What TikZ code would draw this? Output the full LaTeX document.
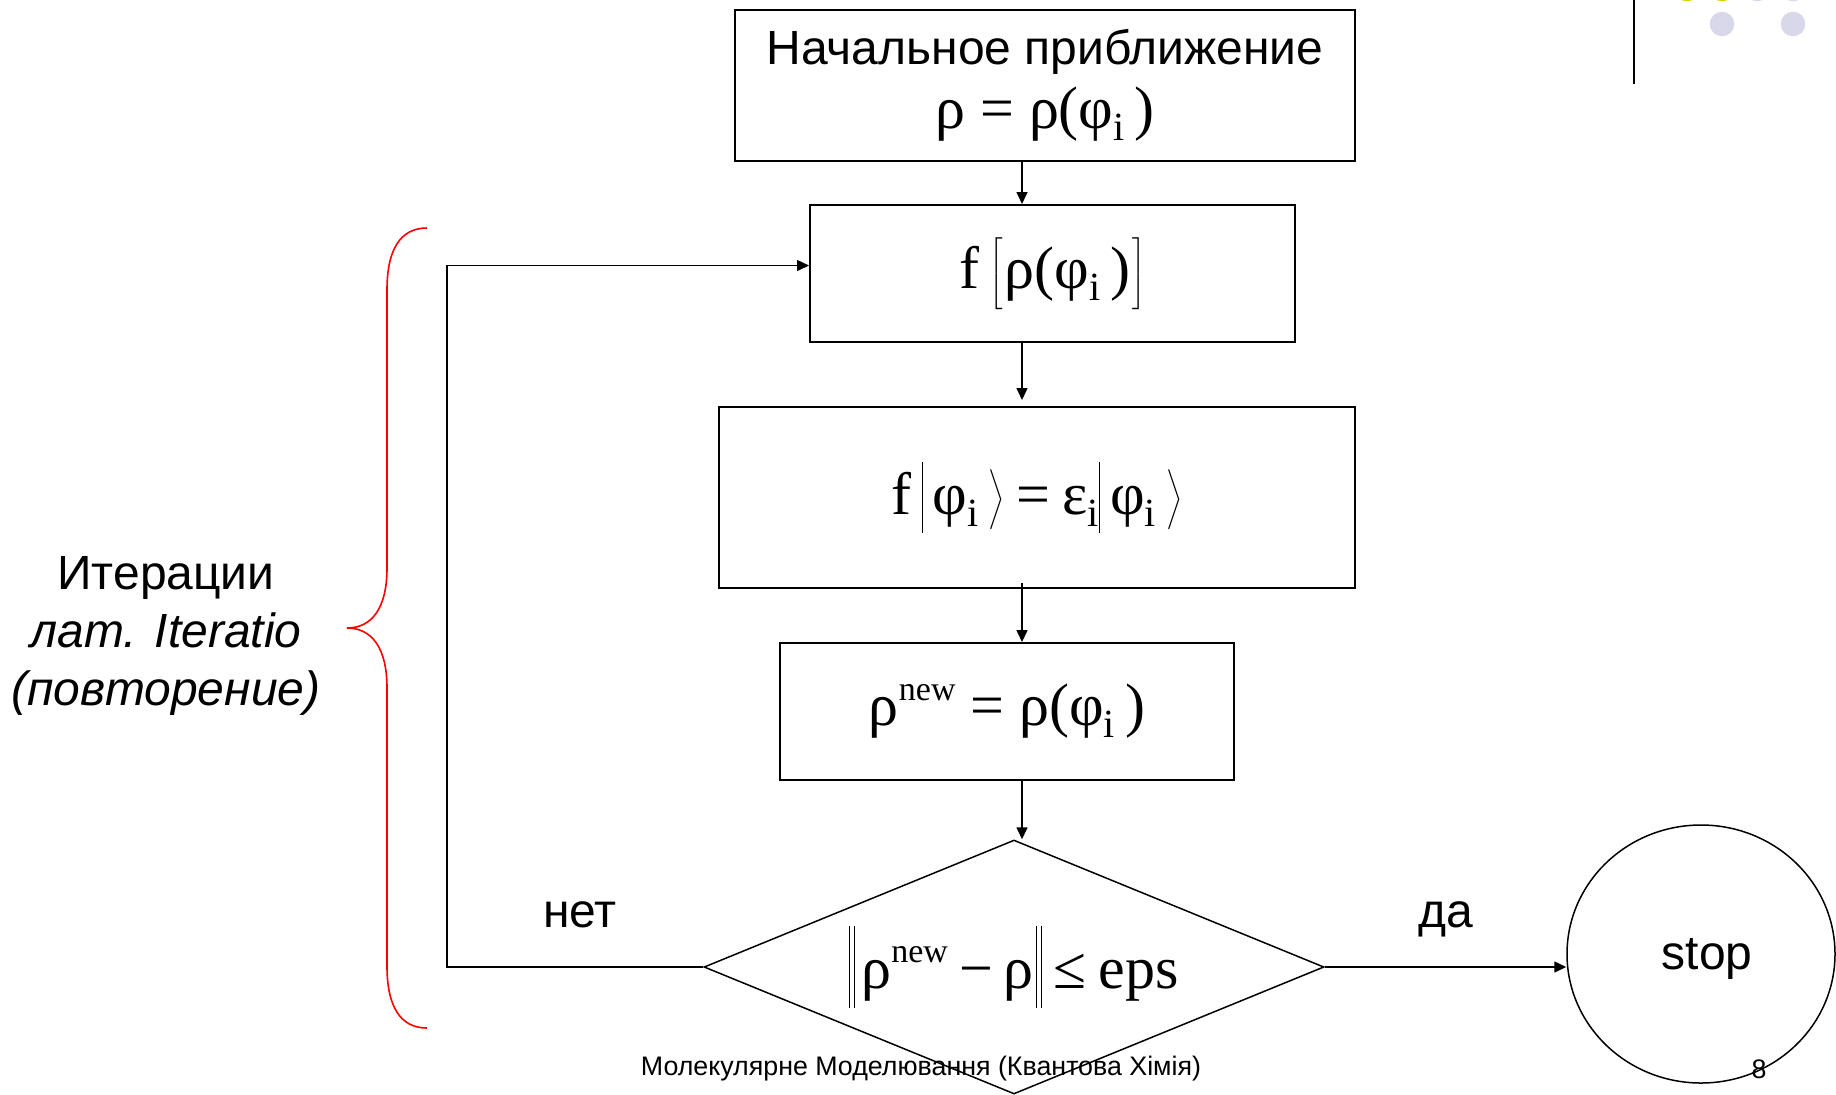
\RequirePackage{fix-cm}
\documentclass[tikz,border=0pt]{standalone}
\usepackage{fontspec}
\setmainfont{Liberation Sans}
\newfontfamily\frm{Liberation Serif}
\usepackage{tikz}
\usetikzlibrary{shapes.geometric,positioning,arrows.meta}
\definecolor{colorbr}{HTML}{FF0000}
\definecolor{colordotA}{HTML}{D4D400}
\definecolor{colordotB}{HTML}{D8D8EA}
\tikzset{blk/.style={draw, line width=1pt, inner sep=0pt}}
\tikzset{lbl/.style={font=\fontsize{24}{28}\selectfont, inner sep=0pt}}
\tikzset{frml/.style={font=\fontsize{30}{32}\selectfont\frm}}
\tikzset{ftr/.style={font=\fontsize{13.4}{15}\selectfont, inner sep=0pt}}
\tikzset{
  edgeflow/.style={black, line width=0.75pt, -{Triangle[length=6pt, width=5.5pt]}},
  edgebr/.style={colorbr, line width=0.8pt}
}
\newcommand\sbi{\raisebox{-0.2em}{\fontsize{20}{20}\selectfont i}}
\newcommand\supnew{\raisebox{0.42em}{\fontsize{17}{17}\selectfont new}}
\newcommand\phii{φ\sbi}
\newcommand\tall{\vcenter to 34pt{}}
\newcommand\gp{\hspace{5pt}}
\newcommand\kbar{\rule[-9pt]{0.5pt}{35.5pt}}
\newcommand\kket{$\left.\tall\right\rangle$}
\newcommand\nbar{\rule[-10pt]{0.5pt}{41pt}\hspace{2pt}\rule[-10pt]{0.5pt}{41pt}}

\begin{document}
\begin{tikzpicture}[x=0.5pt, y=-0.5pt]
\useasboundingbox (0,0) rectangle (1836,1094);
\clip (0,0) rectangle (1836,1094);
% slide decoration
\draw[line width=1pt] (1634,0) -- (1634,84);
\foreach \cx/\cc in {1687/colordotA,1722/colordotA,1757/colordotB,1793/colordotB}
  \fill[\cc] (\cx,-11) circle (6.15pt);
\fill[colordotB] (1722,24) circle (6.15pt);
\fill[colordotB] (1793,24) circle (6.15pt);
% blocks
\node[blk, minimum width=310pt, minimum height=75.5pt, align=center, font=\fontsize{24}{32}\selectfont] (init) at (1045,85)
  {Начальное приближение\\{\frm\fontsize{30}{32}\selectfont ρ = ρ(\phii\,)}};
\node[blk, frml, minimum width=242.5pt, minimum height=68.5pt] (fbox) at (1052.5,273.5)
  {f\gp$\left[\tall\mbox{\hspace{1pt}ρ(\phii\,)\hspace{1pt}}\right]$};
\node[blk, frml, minimum width=318pt, minimum height=90.5pt] (eig) at (1037,497.5)
  {f\gp\kbar\gp\phii\hspace{4pt}\kket\hspace{6pt}=\hspace{6pt}ε\sbi\kbar\gp\phii\hspace{4pt}\kket};
\node[blk, frml, minimum width=227pt, minimum height=68.5pt] (rnew) at (1007,711.5)
  {ρ\supnew\ = ρ(\phii\,)};
\node[draw, diamond, line width=0.75pt, frml, inner sep=0pt, aspect=2.44,
  minimum width=310pt, minimum height=127pt] (dia) at (1014,967)
  {\nbar\hspace{3pt}ρ\supnew\hspace{6pt}−\,ρ\hspace{1pt}\nbar\hspace{6pt}≤\hspace{6pt}eps};
\node[draw, ellipse, line width=0.75pt, lbl, text depth=0pt, minimum width=134pt, minimum height=129pt] (stop) at (1701,954) {\hspace*{6pt}stop};
% connectors
\coordinate (ax) at (1022,0);
\coordinate (lp) at (447,0);
\draw[edgeflow] (init.south -| ax) -- (fbox.north -| ax);
\draw[edgeflow, shorten >=3pt] (fbox.south -| ax) -- (eig.north -| ax);
\draw[edgeflow, shorten <=-3pt] (eig.south -| ax) -- (rnew.north -| ax);
\draw[edgeflow] (rnew.south -| ax) -- (ax |- dia.north);
\draw[edgeflow] (dia.west) -- (dia.west -| lp) |- ([yshift=4pt]fbox.west);
\draw[edgeflow] (dia.east) -- (dia.east -| stop.west);
\node[lbl, anchor=base] (no) at (580,927) {нет};
\node[lbl, anchor=base] (yes) at (1446,927) {да};
% brace and its text
\draw[edgebr] (427,228) .. controls (400,228) and (387,250) .. (387,290) -- (387,568)
  .. controls (387,608) and (372,628) .. (347,628)
  .. controls (372,628) and (387,648) .. (387,688) -- (387,966)
  .. controls (387,1006) and (400,1028) .. (427,1028);
\node[lbl, align=center, font=\fontsize{24}{29}\selectfont] (iter) at (166,636)
  {Итерации\\\textit{лат. Iteratio}\\\textit{(повторение)}};
% footer
\node[ftr] (foot) at (921,1069) {Молекулярне Моделювання (Квантова Хімія)};
\node[ftr] (page) at (1759,1069) {8};
\end{tikzpicture}
\end{document}
